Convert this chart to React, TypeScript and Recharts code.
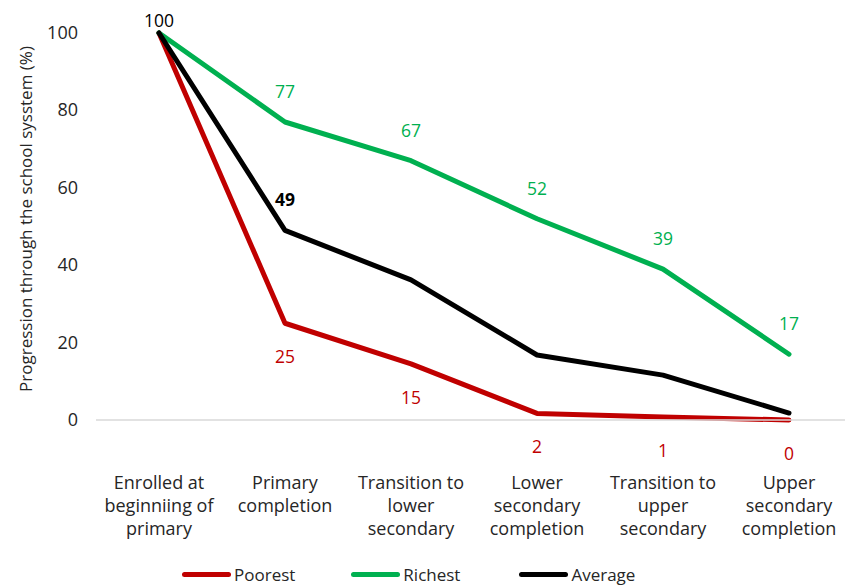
import React from "react";
import { LineChart, Line, XAxis, YAxis, Legend, LabelList } from "recharts";

const categories = [
  "Enrolled at beginniing of primary",
  "Primary completion",
  "Transition to lower secondary",
  "Lower secondary completion",
  "Transition to upper secondary",
  "Upper secondary completion",
];
const tickLines = [
  ["Enrolled at", "beginniing of", "primary"],
  ["Primary", "completion"],
  ["Transition to", "lower", "secondary"],
  ["Lower", "secondary", "completion"],
  ["Transition to", "upper", "secondary"],
  ["Upper", "secondary", "completion"],
];
const poorest = [100, 25, 14.5, 1.7, 0.8, 0];
const richest = [100, 77, 67, 52, 39, 17];
const average = [100, 49, 36.2, 16.8, 11.6, 1.8];
const poorestLabels = ["", "25", "15", "2", "1", "0"];
const richestLabels = ["", "77", "67", "52", "39", "17"];
const averageLabels = ["100", "49", "", "", "", ""];
const yTicks = [0, 20, 40, 60, 80, 100];
const yTitle = "Progression through the school sysstem (%)";

const RED = "#C00000";
const GREEN = "#00B050";
const BLACK = "#000000";
const TEXT = "#262626";
const FONT = "'Open Sans', sans-serif";

const data = categories.map((c, i) => ({
  cat: c,
  idx: i,
  poorest: poorest[i],
  richest: richest[i],
  average: average[i],
}));

const XTick = (props: any) => {
  const { x, y, payload } = props;
  const lines = tickLines[payload.index] || [payload.value];
  return (
    <g>
      {lines.map((l: string, k: number) => (
        <text
          key={k}
          x={x}
          y={y + 61 + k * 23}
          textAnchor="middle"
          fontSize={18}
          fill={TEXT}
          fontFamily={FONT}
        >
          {l}
        </text>
      ))}
    </g>
  );
};

const YTick = (props: any) => {
  const { x, y, payload } = props;
  return (
    <text x={x} y={y} dy={6} textAnchor="end" fontSize={18} fill={TEXT} fontFamily={FONT}>
      {payload.value}
    </text>
  );
};

const makeLabel = (labels: string[], color: string, dyOff: number, boldIdx: number[] = [], specialDy: Record<number, number> = {}) =>
  (props: any) => {
    const { x, y, index } = props;
    const t = labels[index];
    if (!t) return null;
    const d = specialDy[index] !== undefined ? specialDy[index] : dyOff;
    return (
      <text
        x={x}
        y={y + d}
        textAnchor="middle"
        dominantBaseline="central"
        fontSize={17.5}
        fill={color}
        fontWeight={boldIdx.includes(index) ? 700 : 400}
        fontFamily={FONT}
      >
        {t}
      </text>
    );
  };

const legendItems = [
  { name: "Poorest", color: RED },
  { name: "Richest", color: GREEN },
  { name: "Average", color: BLACK },
];
const legendGaps = [56, 59, 0];

const LegendContent = () => (
  <div style={{ display: "flex", alignItems: "center", fontFamily: FONT, fontSize: 17, color: TEXT }}>
    {legendItems.map((it, i) => (
      <div key={i} style={{ display: "flex", alignItems: "center", marginRight: legendGaps[i] }}>
        <div style={{ width: 49, height: 5, borderRadius: 3, background: it.color, marginRight: 3 }} />
        <span>{it.name}</span>
      </div>
    ))}
  </div>
);

export default function App() {
  return (
    <div style={{ position: "absolute", left: 0, top: 0, width: 845, height: 588, overflow: "hidden", background: "#fff" }}>
      <LineChart width={852} height={588} data={data} margin={{ top: 33, right: 0, left: 0, bottom: 0 }}>
        <XAxis
          dataKey="cat"
          interval={0}
          padding={{ left: 63, right: 63 }}
          axisLine={{ stroke: "#d9d9d9", strokeWidth: 1.5 }}
          tickLine={false}
          tick={<XTick />}
          height={168}
        />
        <YAxis
          domain={[0, 100]}
          ticks={yTicks}
          width={96}
          axisLine={false}
          tickLine={false}
          tickMargin={12}
          tick={<YTick />}
          label={{
            content: () => (
              <text
                transform="translate(25,219) rotate(-90)"
                textAnchor="middle"
                dominantBaseline="central"
                fontSize={17}
                fill={TEXT}
                fontFamily={FONT}
              >
                {yTitle}
              </text>
            ),
          }}
        />
        <Legend
          verticalAlign="middle"
          layout="horizontal"
          content={<LegendContent />}
          wrapperStyle={{ top: 563, left: 182, width: 600 }}
        />
        <Line type="linear" dataKey="poorest" stroke={RED} strokeWidth={5} dot={false} isAnimationActive={false} strokeLinejoin="round" strokeLinecap="round">
          <LabelList dataKey="poorest" content={makeLabel(poorestLabels, RED, 33)} />
        </Line>
        <Line type="linear" dataKey="richest" stroke={GREEN} strokeWidth={5} dot={false} isAnimationActive={false} strokeLinejoin="round" strokeLinecap="round">
          <LabelList dataKey="richest" content={makeLabel(richestLabels, GREEN, -31)} />
        </Line>
        <Line type="linear" dataKey="average" stroke={BLACK} strokeWidth={5} dot={false} isAnimationActive={false} strokeLinejoin="round" strokeLinecap="round">
          <LabelList dataKey="average" content={makeLabel(averageLabels, BLACK, -31, [1], { 0: -13 })} />
        </Line>
      </LineChart>
    </div>
  );
}
